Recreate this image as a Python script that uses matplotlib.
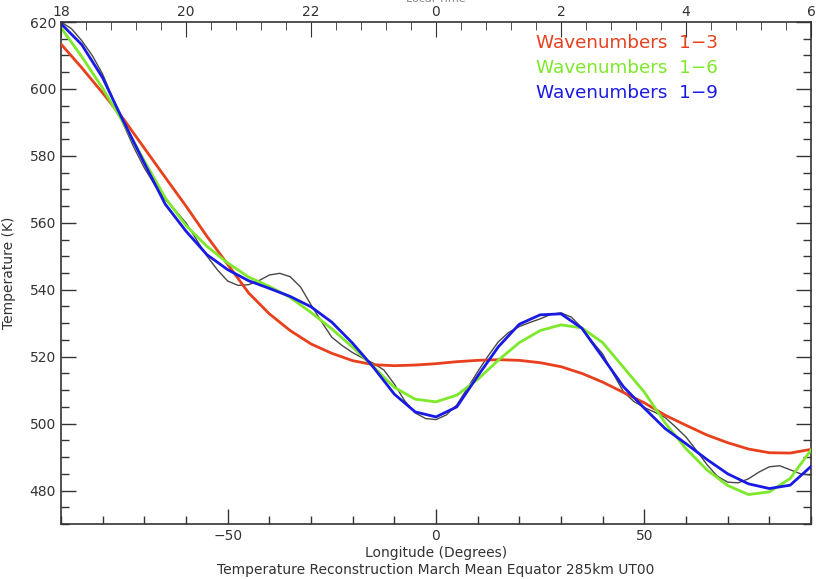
import matplotlib
matplotlib.use("Agg")
import matplotlib.pyplot as plt
from matplotlib.ticker import MultipleLocator, FixedLocator

# ---- data ----
lon = list(range(-90, 91, 5))

red_wn13 = [613.4, 606.3, 598.8, 591.0, 582.3, 573.6, 565.0, 556.0, 547.6, 539.1,
            532.8, 527.8, 523.8, 521.0, 518.8, 517.6, 517.3, 517.5, 517.9, 518.5,
            518.9, 519.1, 518.9, 518.2, 517.0, 515.0, 512.4, 509.3, 506.2, 502.5,
            499.5, 496.6, 494.3, 492.4, 491.3, 491.2, 492.3]

green_wn16 = [618.3, 609.6, 600.2, 589.8, 578.5, 567.5, 559.2, 553.0, 548.0, 543.8,
              541.0, 537.7, 533.2, 528.3, 522.8, 517.0, 510.8, 507.3, 506.5, 508.5,
              513.2, 519.0, 524.2, 527.8, 529.5, 528.6, 524.2, 516.8, 509.4, 500.2,
              492.5, 486.2, 481.5, 478.8, 479.6, 483.6, 492.1]

blue_wn19 = [619.5, 613.2, 603.3, 590.3, 577.8, 565.6, 557.5, 550.5, 546.0, 542.7,
             540.4, 538.0, 534.9, 530.3, 524.0, 516.8, 508.8, 503.5, 502.0, 505.0,
             514.2, 523.0, 529.7, 532.5, 532.8, 528.5, 519.8, 511.0, 504.6, 498.5,
             494.0, 489.3, 485.0, 482.0, 480.6, 481.6, 487.2]

lon_obs = [-90, -87.5, -85, -82.5, -80, -77.5, -75, -72.5, -70, -67.5, -65, -62.5,
           -60, -57.5, -55, -52.5, -50, -47.5, -45, -42.5, -40, -37.5, -35, -32.5,
           -30, -27.5, -25, -22.5, -20, -17.5, -15, -12.5, -10, -7.5, -5, -2.5,
           0, 2.5, 5, 7.5, 10, 12.5, 15, 17.5, 20, 22.5, 25, 27.5, 30, 32.5, 35,
           37.5, 40, 42.5, 45, 47.5, 50, 52.5, 55, 57.5, 60, 62.5, 65, 67.5, 70,
           72.5, 75, 77.5, 80, 82.5, 85, 87.5, 90]
temp_obs = [620.0, 618.0, 614.4, 610.0, 604.4, 597.0, 589.4, 582.5, 576.4, 571.3,
            567.0, 563.6, 560.0, 555.0, 550.1, 546.0, 542.6, 541.3, 541.5, 542.7,
            544.4, 544.9, 543.9, 540.8, 535.5, 530.5, 525.8, 523.3, 521.2, 519.5,
            518.0, 516.0, 511.8, 506.8, 503.2, 501.5, 501.2, 502.6, 505.6, 510.5,
            515.5, 520.2, 524.5, 527.3, 529.0, 530.2, 531.3, 532.6, 533.1, 531.8,
            528.6, 524.5, 520.8, 515.0, 509.5, 506.6, 504.8, 503.4, 501.8, 499.0,
            496.0, 492.0, 487.8, 484.3, 482.5, 482.3, 483.5, 485.5, 487.1, 487.4,
            486.2, 485.0, 484.6]

legend_labels = ["Wavenumbers  1\u22123", "Wavenumbers  1\u22126", "Wavenumbers  1\u22129"]
colors = ["#e8401c", "#7ee82a", "#1a1ae6"]

lt_positions = [-90, -60, -30, 0, 30, 60, 90]
lt_labels = ["18", "20", "22", "0", "2", "4", "6"]

# ---- figure ----
fig = plt.figure(figsize=(8.16, 5.79), dpi=100)
ax = fig.add_axes([61/816, 55/579, 750/816, 502/579])

ax.plot(lon_obs, temp_obs, color="#484848", lw=1.0, zorder=2)
ax.plot(lon, red_wn13, color=colors[0], lw=2.0, zorder=3, solid_joinstyle="round")
ax.plot(lon, green_wn16, color=colors[1], lw=2.0, zorder=3, solid_joinstyle="round")
ax.plot(lon, blue_wn19, color=colors[2], lw=2.0, zorder=4, solid_joinstyle="round")

ax.set_xlim(-90, 90)
ax.set_ylim(470, 620)

ax.xaxis.set_major_locator(FixedLocator([-50, 0, 50]))
ax.xaxis.set_minor_locator(MultipleLocator(10))
ax.yaxis.set_major_locator(MultipleLocator(20))
ax.yaxis.set_minor_locator(MultipleLocator(5))
ax.tick_params(which="both", direction="in", top=False, right=True,
               labelsize=10, colors="#333333", width=1.0)
ax.tick_params(which="major", length=11)
ax.tick_params(which="minor", length=6)
ax.set_xticklabels(["\u221250", "0", "50"])
for sp in ax.spines.values():
    sp.set_color("#333333")
    sp.set_linewidth(1.2)

ax.set_xlabel("Longitude (Degrees)", fontsize=10, color="#333333", labelpad=2)
ax.set_ylabel("Temperature (K)", fontsize=10, color="#333333", labelpad=10)

top = ax.twiny()
top.set_xlim(-90, 90)
top.xaxis.set_major_locator(FixedLocator(lt_positions))
top.xaxis.set_minor_locator(MultipleLocator(6))
top.set_xticklabels(lt_labels)
top.tick_params(which="both", direction="in", labelsize=10, colors="#333333", pad=2)
top.tick_params(which="major", length=11)
top.tick_params(which="minor", length=6)
for sp in top.spines.values():
    sp.set_visible(False)

fig.text(436/816, 1.0 + 1/579, "Local Time", ha="center", va="center",
         fontsize=8, color="#888888")

for i, (lab, c) in enumerate(zip(legend_labels, colors)):
    fig.text(536/816, 1 - (43 + 25*i)/579, lab, color=c, fontsize=13.2,
             ha="left", va="center")

fig.text(436/816, 1 - 570/579, "Temperature Reconstruction March Mean Equator 285km UT00",
         ha="center", va="center", fontsize=10, color="#333333")

fig.savefig("out.png", dpi=100)
